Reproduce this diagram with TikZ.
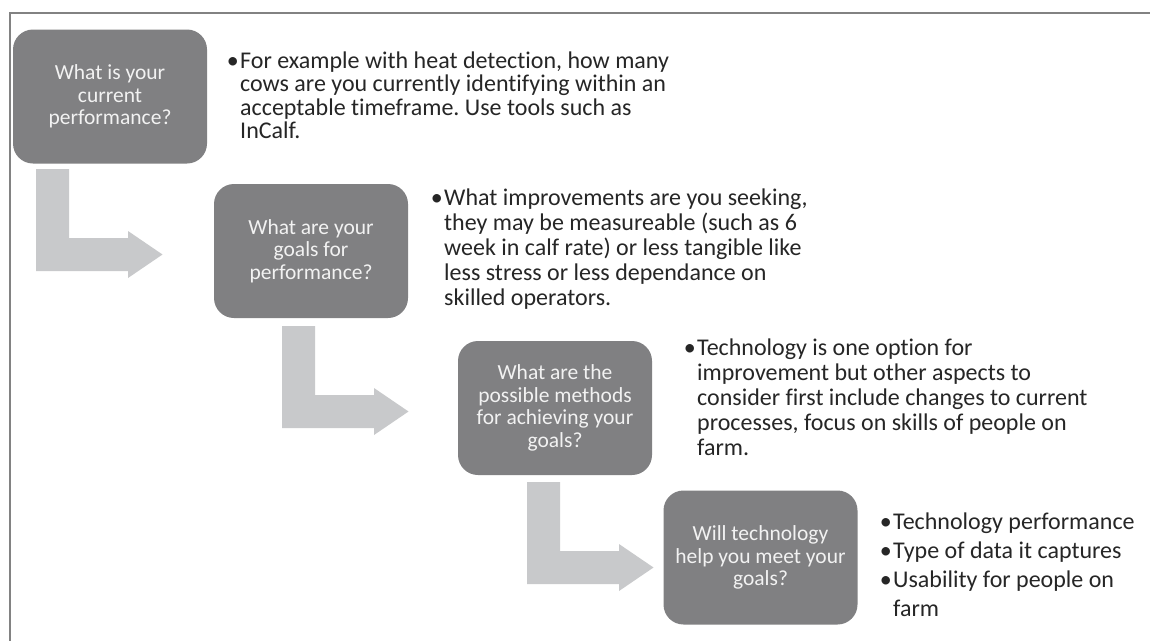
\documentclass[tikz,border=0pt]{standalone}
\usepackage{fontspec}
\setmainfont{Carlito}[RawFeature={-liga}]
\usetikzlibrary{calc}
\definecolor{boxgray}{RGB}{128,128,130}
\definecolor{arrgray}{RGB}{200,201,203}
\definecolor{txtdark}{RGB}{38,38,38}
\definecolor{framegray}{RGB}{130,130,130}
\definecolor{boxtext}{RGB}{242,242,242}
\newcommand{\bul}{\leavevmode\llap{\textbullet\hspace{1.5pt}}}
\frenchspacing
\begin{document}
\begin{tikzpicture}[x=1pt,y=-1pt,
  qbox/.style={draw=none, fill=boxgray, rounded corners=20pt, minimum width=194pt,
    minimum height=134pt, inner sep=0pt, align=center, text=boxtext,
    font=\fontsize{21.5}{22.5}\selectfont},
  btext/.style={inner sep=0pt, anchor=base west, text=txtdark},
  pics/bentarrow/.style={code={
    \fill[arrgray] (0,0) -- (33,0) -- (33,69) -- (92,69) -- (92,62) -- (126.5,85.5)
      -- (92,109) -- (92,102) -- (0,102) -- cycle;}}
]
\useasboundingbox (0,0) rectangle (1150,641);
\fill[white] (0,0) rectangle (1150,641);
\draw[framegray, line width=2pt] (1150,12.5) -- (10,12.5) -- (10,641);

% question boxes
\node[qbox] (q1) at (110,96.5) {What is your\\current\\performance?};
\node[qbox] (q2) at (311,251) {What are your\\goals for\\performance?};
\node[qbox] (q3) at (555,408) {What are the\\possible methods\\for achieving your\\goals?};
\node[qbox] (q4) at (760.5,557.5) {Will technology\\help you meet your\\goals?};

% bent arrows
\pic (a1) at (36,169) {bentarrow};
\pic (a2) at (282,326) {bentarrow};
\pic (a3) at (527,482) {bentarrow};

% bullet texts
\node[btext] (t1) at (240,68) {\fontsize{24}{23.5}\selectfont\parbox[t]{520pt}{\raggedright
  \bul For example with heat detection, how many\\
  cows are you currently identifying within an\\
  acceptable timeframe. Use tools such as\\
  InCalf.}};
\node[btext] (t2) at (444,205) {\fontsize{24}{25}\selectfont\parbox[t]{520pt}{\raggedright
  \bul What improvements are you seeking,\\
  they may be measureable (such as 6\\
  week in calf rate) or less tangible like\\
  less stress or less dependance on\\
  skilled operators.}};
\node[btext] (t3) at (697,355) {\fontsize{24}{25}\selectfont\parbox[t]{520pt}{\raggedright
  \bul Technology is one option for\\
  improvement but other aspects to\\
  consider first include changes to current\\
  processes, focus on skills of people on\\
  farm.}};
\node[btext] (t4) at (893,529) {\fontsize{24}{29}\selectfont\parbox[t]{300pt}{\raggedright
  \bul Technology performance\par
  \bul Type of data it captures\par
  \bul Usability for people on\\
  farm}};
\end{tikzpicture}
\end{document}
